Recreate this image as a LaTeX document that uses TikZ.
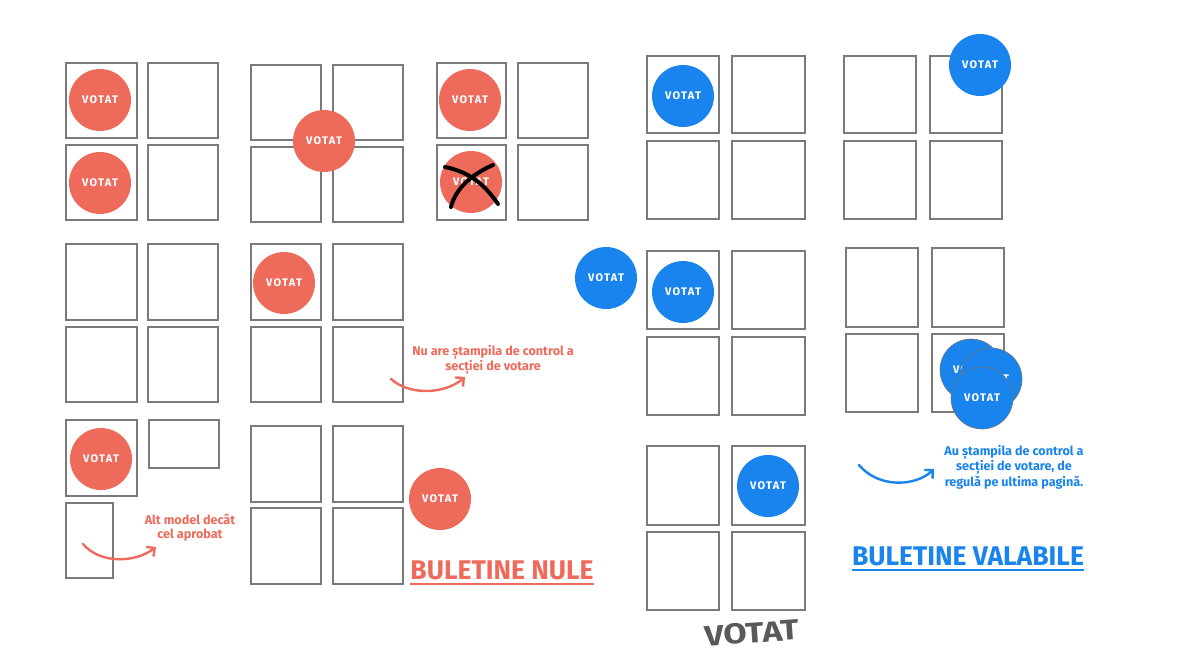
\documentclass[tikz,border=0pt]{standalone}
\usepackage{fontspec}
\setmainfont{Fira Sans}
\usetikzlibrary{fit,arrows.meta}
\definecolor{nulred}{HTML}{EE6A5B}
\definecolor{valblue}{HTML}{1A84EE}
\definecolor{boxgray}{HTML}{7A7A7A}
\tikzset{
  ballotbox/.style={draw=boxgray, line width=1.8pt, inner sep=0pt, fill=white},
  stampbase/.style={circle, minimum size=62pt, inner sep=0pt, text=white,
     font=\fontsize{11}{12}\selectfont\bfseries\addfontfeature{LetterSpace=12}},
  redstamp/.style={stampbase, fill=nulred},
  bluestamp/.style={stampbase, fill=valblue},
  bluestampedge/.style={bluestamp, draw=black!55, line width=0.6pt},
  note/.style={align=center, font=\fontsize{12.6}{13.6}\selectfont\bfseries},
  title/.style={font=\fontsize{27}{30}\selectfont\bfseries},
  curvearrow/.style={line width=2.4pt, line cap=round, -{Straight Barb[length=6pt,width=12pt,line width=2.4pt]}},
  xstroke/.style={line width=4pt, line cap=round, black}
}
\newcommand\ballot[3]{\node[ballotbox, fit={#2 #3}] (#1) {};}
\begin{document}
\begin{tikzpicture}[x=1pt,y=-1pt]
\useasboundingbox (0,0) rectangle (1200,659);
\fill[white] (0,0) rectangle (1200,659);

% ---------- Group A
\ballot{a11}{(66,63)}{(137,138)}
\ballot{a12}{(148,63)}{(218,138)}
\ballot{a21}{(66,145)}{(137,220)}
\ballot{a22}{(148,145)}{(218,220)}
\node[redstamp] (sa1) at (100,100) {VOTAT};
\node[redstamp] (sa2) at (100,183) {VOTAT};

% ---------- Group B
\ballot{b11}{(251,65)}{(321,140)}
\ballot{b12}{(333,65)}{(403,140)}
\ballot{b21}{(251,147)}{(321,222)}
\ballot{b22}{(333,147)}{(403,222)}
\node[redstamp] (sb) at (324,141) {VOTAT};

% ---------- Group C
\ballot{c11}{(437,63)}{(506,138)}
\ballot{c12}{(518,63)}{(588,138)}
\ballot{c21}{(437,145)}{(506,220)}
\ballot{c22}{(518,145)}{(588,220)}
\node[redstamp] (sc1) at (470,100) {VOTAT};
\node[redstamp] (sc2) at (471,182) {VOTAT};
\coordinate (x1a) at (445,167);
\coordinate (x1b) at (498,204);
\coordinate (x2a) at (493,165);
\coordinate (x2b) at (451,207);
\draw[xstroke] (x1a) .. controls (470,172) and (485,185) .. (x1b);
\draw[xstroke] (x2a) .. controls (470,175) and (455,190) .. (x2b);

% ---------- Group D
\ballot{d11}{(66,244)}{(137,320)}
\ballot{d12}{(148,244)}{(218,320)}
\ballot{d21}{(66,327)}{(137,402)}
\ballot{d22}{(148,327)}{(218,402)}

% ---------- Group E
\ballot{e11}{(251,244)}{(321,320)}
\ballot{e12}{(333,244)}{(403,320)}
\ballot{e21}{(251,327)}{(321,402)}
\ballot{e22}{(333,327)}{(403,402)}
\node[redstamp] (se) at (284,283) {VOTAT};

\node[note, text=nulred] (n1) at (493,360) {Nu are ștampila de control a\\secției de votare};
\coordinate (ar1s) at (391,379);
\coordinate (ar1e) at (465,377);
\draw[curvearrow, nulred] (ar1s) .. controls (410,396) and (445,394) .. (ar1e);

% ---------- Group F
\ballot{f1}{(66,420)}{(137,496)}
\ballot{f2}{(149,420)}{(219,468)}
\ballot{f3}{(66,503)}{(113,578)}
\node[redstamp] (sf) at (101,459) {VOTAT};
\node[note, text=nulred] (n2) at (190,528) {Alt model decât\\cel aprobat};
\coordinate (ar2s) at (83,544);
\coordinate (ar2e) at (156,547);
\draw[curvearrow, nulred] (ar2s) .. controls (100,564) and (135,563) .. (ar2e);

% ---------- Group G
\ballot{g11}{(251,426)}{(321,502)}
\ballot{g12}{(333,426)}{(403,502)}
\ballot{g21}{(251,508)}{(321,584)}
\ballot{g22}{(333,508)}{(403,584)}
\node[redstamp] (sg) at (440,499) {VOTAT};

\node[title, text=nulred, inner sep=0pt] (t1) at (502,570) {\scalebox{0.98}[1]{BULETINE NULE}};
\draw[nulred, line width=1.6pt] (t1.south west) ++(0,4) -- ([yshift=-4pt]t1.south east);

% ---------- Group H
\ballot{h11}{(647,56)}{(719,133)}
\ballot{h12}{(732,56)}{(805,133)}
\ballot{h21}{(647,141)}{(719,219)}
\ballot{h22}{(732,141)}{(805,219)}
\node[bluestamp] (sh) at (683,96) {VOTAT};

% ---------- Group I
\ballot{i11}{(844,56)}{(916,133)}
\ballot{i12}{(930,56)}{(1002,133)}
\ballot{i21}{(844,141)}{(916,219)}
\ballot{i22}{(930,141)}{(1002,219)}
\node[bluestamp] (si) at (980,65) {VOTAT};

% ---------- Group J
\ballot{j11}{(647,251)}{(719,329)}
\ballot{j12}{(732,251)}{(805,329)}
\ballot{j21}{(647,337)}{(719,415)}
\ballot{j22}{(732,337)}{(805,415)}
\node[bluestamp] (sj1) at (683,292) {VOTAT};
\node[bluestamp] (sj2) at (606,278) {VOTAT};

% ---------- Group K
\ballot{k11}{(846,248)}{(918,327)}
\ballot{k12}{(932,248)}{(1004,327)}
\ballot{k21}{(846,334)}{(918,412)}
\ballot{k22}{(932,334)}{(1004,412)}
\node[bluestampedge] (sk1) at (971,370) {VOTAT};
\node[bluestampedge] (sk2) at (991,379) {VOTAT};
\node[bluestampedge] (sk3) at (982,398) {VOTAT};

\node[note, text=valblue] (n3) at (1014,467) {Au ștampila de control a\\secției de votare, de\\regulă pe ultima pagină.};
\coordinate (ar3s) at (859,465);
\coordinate (ar3e) at (934,469);
\draw[curvearrow, valblue] (ar3s) .. controls (878,488) and (915,487) .. (ar3e);

% ---------- Group L
\ballot{l11}{(647,446)}{(719,525)}
\ballot{l12}{(732,446)}{(805,525)}
\ballot{l21}{(647,532)}{(719,610)}
\ballot{l22}{(732,532)}{(805,610)}
\node[bluestamp] (sl) at (768,486) {VOTAT};

\node[title, text=valblue, inner sep=0pt] (t2) at (968,556) {\scalebox{0.98}[1]{BULETINE VALABILE}};
\draw[valblue, line width=1.6pt] (t2.south west) ++(0,4) -- ([yshift=-4pt]t2.south east);

% handwritten mark
\node[text=black!65, font=\fontsize{26}{28}\selectfont\bfseries, rotate=4, inner sep=0pt] (hw) at (752,633) {\scalebox{1.3}[1.1]{VOTAT}};
\end{tikzpicture}
\end{document}
